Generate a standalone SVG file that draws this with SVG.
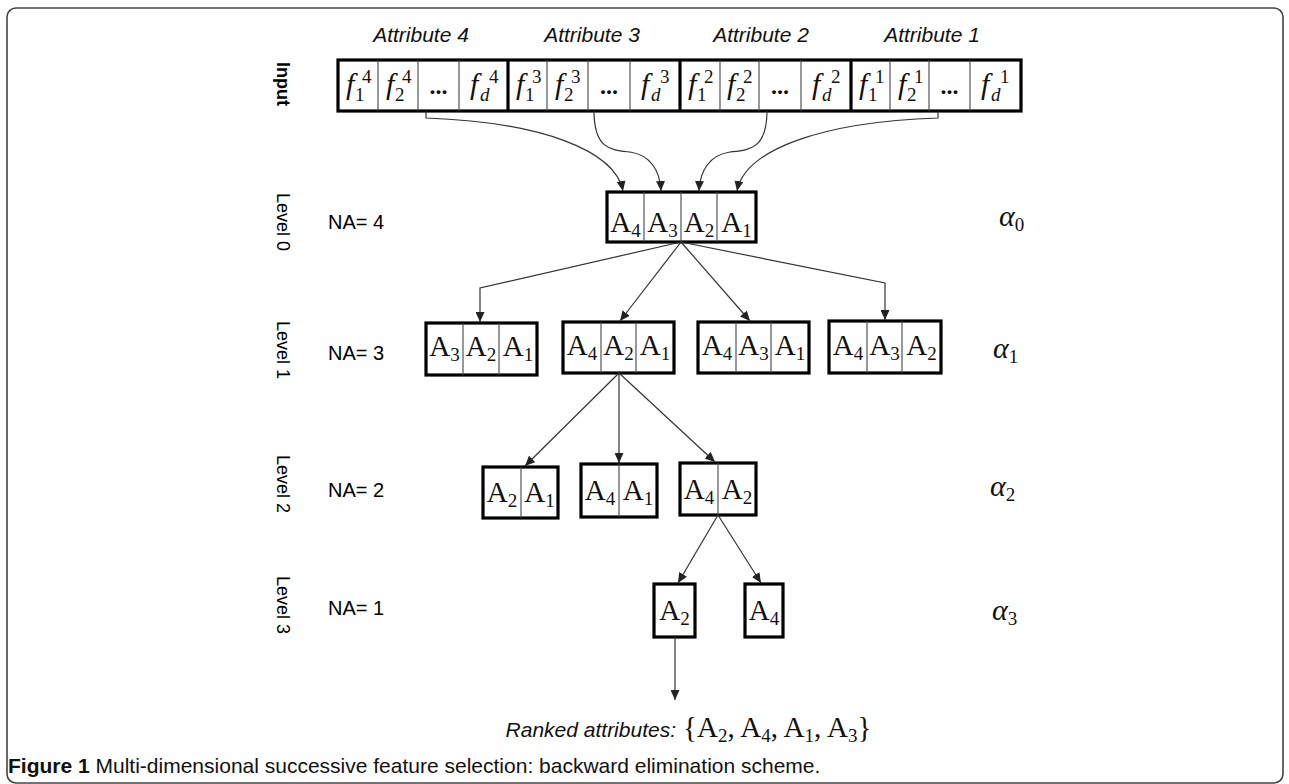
<svg xmlns="http://www.w3.org/2000/svg" width="1289" height="784" viewBox="0 0 1289 784">
<defs>
<marker id="ah" markerUnits="userSpaceOnUse" markerWidth="10" markerHeight="9" refX="10" refY="4.5" orient="auto">
<path d="M0,0 L10,4.5 L0,9 z" fill="#222"/>
</marker>
<style>
.frame{fill:none;stroke:#444;stroke-width:1.6}
.box{fill:#fff;stroke:#000;stroke-width:3.2}
.div{stroke:#444;stroke-width:1.1}
.thick{stroke:#000;stroke-width:3.2}
.con{fill:none;stroke:#333;stroke-width:1.2;marker-end:url(#ah)}
.lbl{font-family:"Liberation Sans",Arial,sans-serif;font-size:18px;fill:#000}
.na{font-family:"Liberation Sans",Arial,sans-serif;font-size:20px;fill:#000}
.att{font-family:"Liberation Sans",Arial,sans-serif;font-size:21px;font-style:italic;fill:#111}
.f{font-family:"Liberation Serif","Times New Roman",serif;font-size:30px;font-style:italic;fill:#111}
.s{font-family:"Liberation Serif","Times New Roman",serif;font-size:19px;fill:#111}
.dots{font-family:"Liberation Serif","Times New Roman",serif;font-size:24px;font-weight:bold;fill:#111;text-anchor:middle}
.A{font-family:"Liberation Serif","Times New Roman",serif;font-size:29px;fill:#111}
.m{text-anchor:middle}
.sub{font-size:19px}
.al{font-family:"Liberation Serif","Times New Roman",serif;font-size:30px;font-style:italic;fill:#111}
.cap{font-family:"Liberation Sans",Arial,sans-serif;font-size:21px;fill:#111}
</style>
</defs>
<rect class="frame" x="7" y="8" width="1276" height="775" rx="9"/>

<g id="labels">
<text class="att" x="421" y="42" text-anchor="middle">Attribute 4</text>
<text class="att" x="592" y="42" text-anchor="middle">Attribute 3</text>
<text class="att" x="761" y="42" text-anchor="middle">Attribute 2</text>
<text class="att" x="932" y="42" text-anchor="middle">Attribute 1</text>
<text class="lbl" font-weight="bold" transform="translate(277,84) rotate(90)" text-anchor="middle">Input</text>
<text class="lbl" transform="translate(277,222) rotate(90)" text-anchor="middle">Level 0</text>
<text class="lbl" transform="translate(277,350) rotate(90)" text-anchor="middle">Level 1</text>
<text class="lbl" transform="translate(277,484) rotate(90)" text-anchor="middle">Level 2</text>
<text class="lbl" transform="translate(277,605) rotate(90)" text-anchor="middle">Level 3</text>
<text class="na" x="328" y="229">NA= 4</text>
<text class="na" x="328" y="360">NA= 3</text>
<text class="na" x="328" y="497">NA= 2</text>
<text class="na" x="328" y="615">NA= 1</text>
<text class="al" x="999" y="226">α<tspan class="sub" font-style="normal" dy="5">0</tspan></text>
<text class="al" x="993" y="358">α<tspan class="sub" font-style="normal" dy="5">1</tspan></text>
<text class="al" x="990" y="496">α<tspan class="sub" font-style="normal" dy="5">2</tspan></text>
<text class="al" x="992" y="620">α<tspan class="sub" font-style="normal" dy="5">3</tspan></text>
</g>

<g id="input">
<rect class="box" x="338" y="60" width="683" height="51"/>
<line class="div" x1="378" y1="60" x2="378" y2="111"/>
<line class="div" x1="418" y1="60" x2="418" y2="111"/>
<line class="div" x1="459" y1="60" x2="459" y2="111"/>
<line class="div" x1="547" y1="60" x2="547" y2="111"/>
<line class="div" x1="588" y1="60" x2="588" y2="111"/>
<line class="div" x1="630" y1="60" x2="630" y2="111"/>
<line class="div" x1="720" y1="60" x2="720" y2="111"/>
<line class="div" x1="759" y1="60" x2="759" y2="111"/>
<line class="div" x1="801" y1="60" x2="801" y2="111"/>
<line class="div" x1="890" y1="60" x2="890" y2="111"/>
<line class="div" x1="929" y1="60" x2="929" y2="111"/>
<line class="div" x1="970" y1="60" x2="970" y2="111"/>
<line class="thick" x1="508" y1="60" x2="508" y2="111"/>
<line class="thick" x1="680" y1="60" x2="680" y2="111"/>
<line class="thick" x1="851" y1="60" x2="851" y2="111"/>
<!-- group 4 -->
<text class="f" x="346" y="94">f</text><text class="s" x="355" y="101">1</text><text class="s" x="362" y="83">4</text>
<text class="f" x="386" y="94">f</text><text class="s" x="395" y="101">2</text><text class="s" x="402" y="83">4</text>
<text class="dots" x="438.5" y="94">...</text>
<text class="f" x="470" y="94">f</text><text class="s" x="480" y="101" font-style="italic">d</text><text class="s" x="489" y="83">4</text>
<!-- group 3 -->
<text class="f" x="516" y="94">f</text><text class="s" x="525" y="101">1</text><text class="s" x="532" y="83">3</text>
<text class="f" x="555" y="94">f</text><text class="s" x="564" y="101">2</text><text class="s" x="571" y="83">3</text>
<text class="dots" x="609" y="94">...</text>
<text class="f" x="641" y="94">f</text><text class="s" x="651" y="101" font-style="italic">d</text><text class="s" x="660" y="83">3</text>
<!-- group 2 -->
<text class="f" x="688" y="94">f</text><text class="s" x="697" y="101">1</text><text class="s" x="704" y="83">2</text>
<text class="f" x="727" y="94">f</text><text class="s" x="736" y="101">2</text><text class="s" x="743" y="83">2</text>
<text class="dots" x="780" y="94">...</text>
<text class="f" x="812" y="94">f</text><text class="s" x="822" y="101" font-style="italic">d</text><text class="s" x="831" y="83">2</text>
<!-- group 1 -->
<text class="f" x="859" y="94">f</text><text class="s" x="868" y="101">1</text><text class="s" x="875" y="83">1</text>
<text class="f" x="898" y="94">f</text><text class="s" x="907" y="101">2</text><text class="s" x="914" y="83">1</text>
<text class="dots" x="949.5" y="94">...</text>
<text class="f" x="981" y="94">f</text><text class="s" x="991" y="101" font-style="italic">d</text><text class="s" x="1000" y="83">1</text>
</g>

<g id="level0">
<rect class="box" x="607" y="192" width="149" height="50"/>
<line class="div" x1="644" y1="192" x2="644" y2="242"/>
<line class="div" x1="681" y1="192" x2="681" y2="242"/>
<line class="div" x1="717" y1="192" x2="717" y2="242"/>
<text class="A m" x="625.5" y="232">A<tspan class="sub" dy="5">4</tspan></text>
<text class="A m" x="662.5" y="232">A<tspan class="sub" dy="5">3</tspan></text>
<text class="A m" x="699" y="232">A<tspan class="sub" dy="5">2</tspan></text>
<text class="A m" x="736.5" y="232">A<tspan class="sub" dy="5">1</tspan></text>
</g>

<g id="l1a">
<rect class="box" x="426" y="323" width="111" height="52"/>
<line class="div" x1="463" y1="323" x2="463" y2="375"/>
<line class="div" x1="499" y1="323" x2="499" y2="375"/>
<text class="A m" x="444.5" y="356">A<tspan class="sub" dy="5">3</tspan></text>
<text class="A m" x="481" y="356">A<tspan class="sub" dy="5">2</tspan></text>
<text class="A m" x="518" y="356">A<tspan class="sub" dy="5">1</tspan></text>
</g>
<g id="l1b">
<rect class="box" x="563" y="322" width="111" height="51"/>
<line class="div" x1="601" y1="322" x2="601" y2="373"/>
<line class="div" x1="636" y1="322" x2="636" y2="373"/>
<text class="A m" x="582" y="355">A<tspan class="sub" dy="5">4</tspan></text>
<text class="A m" x="618.5" y="355">A<tspan class="sub" dy="5">2</tspan></text>
<text class="A m" x="655" y="355">A<tspan class="sub" dy="5">1</tspan></text>
</g>
<g id="l1c">
<rect class="box" x="698" y="322" width="111" height="51"/>
<line class="div" x1="736" y1="322" x2="736" y2="373"/>
<line class="div" x1="771" y1="322" x2="771" y2="373"/>
<text class="A m" x="717" y="355">A<tspan class="sub" dy="5">4</tspan></text>
<text class="A m" x="753.5" y="355">A<tspan class="sub" dy="5">3</tspan></text>
<text class="A m" x="790" y="355">A<tspan class="sub" dy="5">1</tspan></text>
</g>
<g id="l1d">
<rect class="box" x="829" y="321" width="112" height="52"/>
<line class="div" x1="867" y1="321" x2="867" y2="373"/>
<line class="div" x1="902" y1="321" x2="902" y2="373"/>
<text class="A m" x="848" y="355">A<tspan class="sub" dy="5">4</tspan></text>
<text class="A m" x="884.5" y="355">A<tspan class="sub" dy="5">3</tspan></text>
<text class="A m" x="921.5" y="355">A<tspan class="sub" dy="5">2</tspan></text>
</g>

<g id="l2a">
<rect class="box" x="483" y="467" width="75" height="51"/>
<line class="div" x1="521" y1="467" x2="521" y2="518"/>
<text class="A m" x="502" y="502">A<tspan class="sub" dy="5">2</tspan></text>
<text class="A m" x="539.5" y="502">A<tspan class="sub" dy="5">1</tspan></text>
</g>
<g id="l2b">
<rect class="box" x="581" y="464" width="76" height="53"/>
<line class="div" x1="619" y1="464" x2="619" y2="517"/>
<text class="A m" x="600" y="500">A<tspan class="sub" dy="5">4</tspan></text>
<text class="A m" x="638" y="500">A<tspan class="sub" dy="5">1</tspan></text>
</g>
<g id="l2c">
<rect class="box" x="680" y="463" width="76" height="52"/>
<line class="div" x1="718" y1="463" x2="718" y2="515"/>
<text class="A m" x="699" y="499">A<tspan class="sub" dy="5">4</tspan></text>
<text class="A m" x="737" y="499">A<tspan class="sub" dy="5">2</tspan></text>
</g>

<g id="l3a">
<rect class="box" x="654" y="584" width="41" height="53"/>
<text class="A m" x="674.5" y="620">A<tspan class="sub" dy="5">2</tspan></text>
</g>
<g id="l3b">
<rect class="box" x="745" y="584" width="38" height="53"/>
<text class="A m" x="764" y="620">A<tspan class="sub" dy="5">4</tspan></text>
</g>

<g id="connectors">
<path class="con" d="M426,111 V118 C540,122 615,150 623,191"/>
<path class="con" d="M594,111 C594,150 612,150 630,152 C650,155 660,170 661,191"/>
<path class="con" d="M767,111 C767,150 748,150 730,152 C710,155 700,170 699,191"/>
<path class="con" d="M938,111 V118 C820,122 745,150 737,191"/>
<path class="con" d="M681,242 L480,288 L480,322"/>
<path class="con" d="M681,242 L620,321"/>
<path class="con" d="M681,242 L750,321"/>
<path class="con" d="M681,242 L885,283 L885,320"/>
<path class="con" d="M619,373 L525,466"/>
<path class="con" d="M619,373 L619,463"/>
<path class="con" d="M619,373 L715,462"/>
<path class="con" d="M718,515 L678,583"/>
<path class="con" d="M718,515 L761,583"/>
<path class="con" d="M675,637 L675,700"/>
</g>

<g id="result">
<text class="att" font-size="19" x="676" y="737" text-anchor="end">Ranked attributes:</text>
<text class="A" x="683" y="737" font-size="28">{A<tspan class="sub" dy="5">2</tspan><tspan dy="-5">, A</tspan><tspan class="sub" dy="5">4</tspan><tspan dy="-5">, A</tspan><tspan class="sub" dy="5">1</tspan><tspan dy="-5">, A</tspan><tspan class="sub" dy="5">3</tspan><tspan dy="-5">}</tspan></text>
</g>

<text class="cap" x="8" y="773"><tspan font-weight="bold">Figure 1</tspan> Multi-dimensional successive feature selection: backward elimination scheme.</text>
</svg>
